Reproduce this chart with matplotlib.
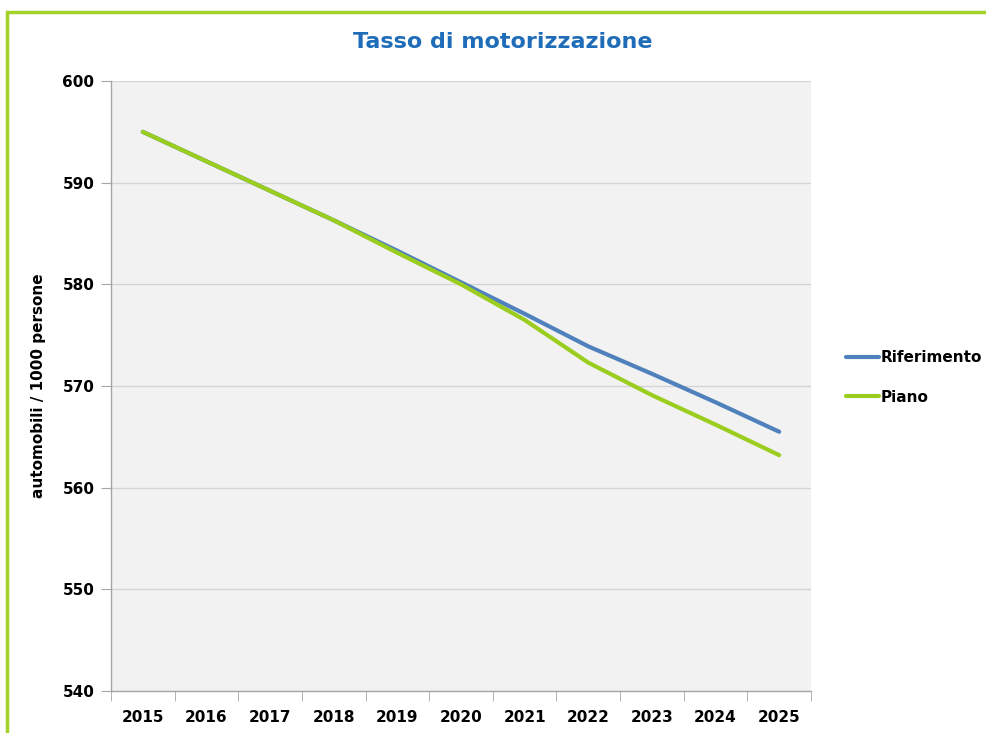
import matplotlib
matplotlib.use("Agg")
import matplotlib.pyplot as plt
from matplotlib.patches import Rectangle
from matplotlib.ticker import FixedLocator

years = ["2015", "2016", "2017", "2018", "2019", "2020", "2021", "2022", "2023", "2024", "2025"]
riferimento = [595.0, 592.1, 589.2, 586.3, 583.3, 580.2, 577.1, 573.9, 571.2, 568.4, 565.5]
piano = [595.0, 592.1, 589.2, 586.3, 583.1, 580.0, 576.5, 572.3, 569.1, 566.2, 563.2]

plt.rcParams['font.family'] = ['DejaVu Sans']

fig = plt.figure(figsize=(9.87, 7.33), dpi=100)
fig.patch.set_facecolor('white')

# green frame
fig.add_artist(Rectangle((7.5 / 987, -0.05), 1.2, 1 - 11.5 / 733 + 0.05,
                         transform=fig.transFigure, fill=False,
                         edgecolor='#a5d22a', linewidth=2.5, clip_on=False))

ax = fig.add_axes([111 / 987, 42 / 733, 700 / 987, 610 / 733])
ax.set_facecolor('#f2f2f2')

x = list(range(len(years)))
ax.plot(x, riferimento, color='#4f81bd', lw=3, label='Riferimento', solid_capstyle='round', zorder=3)
ax.plot(x, piano, color='#9acd1e', lw=3, label='Piano', solid_capstyle='round', zorder=4)

ax.set_xlim(-0.5, len(years) - 0.5)
ax.set_ylim(540, 600)
ax.set_yticks(range(540, 601, 10))
ax.yaxis.grid(True, color='#d4d4d4', lw=1)
ax.set_axisbelow(True)

ax.set_xticks(x)
ax.set_xticklabels(years, fontsize=11, fontweight='bold')
ax.tick_params(axis='x', which='major', length=0, pad=14)
ax.xaxis.set_minor_locator(FixedLocator([i - 0.5 for i in range(len(years) + 1)]))
ax.tick_params(axis='x', which='minor', length=7, color='#a6a6a6', direction='out')
ax.tick_params(axis='y', length=7, color='#a6a6a6', direction='out', pad=5, labelsize=11)
for lab in ax.get_yticklabels():
    lab.set_fontweight('bold')

for s in ['top', 'right']:
    ax.spines[s].set_visible(False)
for s in ['left', 'bottom']:
    ax.spines[s].set_color('#a6a6a6')
    ax.spines[s].set_linewidth(1)

ax.set_ylabel('automobili / 1000 persone', fontsize=11, fontweight='bold', labelpad=12)

fig.text(503 / 987, 1 - 42 / 733, 'Tasso di motorizzazione', ha='center', va='center',
         fontsize=16, fontweight='bold', color='#1f6db8')

leg = ax.legend(loc='center left', bbox_to_anchor=(1.03, 0.514), frameon=False,
                prop={'weight': 'bold', 'size': 11}, handlelength=2.2, handletextpad=0.1,
                labelspacing=1.6)

fig.savefig('out.png', dpi=100)
